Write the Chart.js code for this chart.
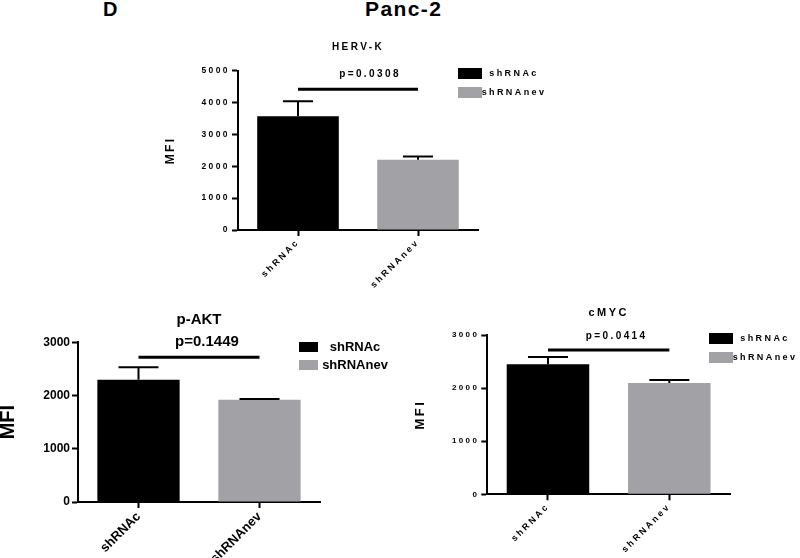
<!DOCTYPE html>
<html>
<head>
<meta charset="utf-8">
<script src="https://cdn.jsdelivr.net/npm/chart.js@4.4.1/dist/chart.umd.min.js"></script>
<style>
  html, body { margin: 0; padding: 0; background: #fff; }
  body { width: 800px; height: 558px; position: relative; overflow: hidden; font-family: 'Liberation Sans', Arial, sans-serif; }
  .panel { position: absolute; }
  .hdr { position: absolute; font-weight: bold; font-size: 20px; line-height: 20px; color: #000; white-space: nowrap; }
</style>
</head>
<body>
<div class="hdr" id="panel-letter" style="left:103px;top:-1px;">D</div>
<div class="hdr" id="figure-title" style="left:365px;top:-1px;font-size:21px;letter-spacing:1.4px;">Panc-2</div>
<canvas id="herv-chart" class="panel" width="400" height="264" style="left:160px;top:36px"></canvas>
<canvas id="akt-chart" class="panel" width="400" height="258" style="left:0px;top:300px"></canvas>
<canvas id="myc-chart" class="panel" width="400" height="258" style="left:400px;top:300px"></canvas>
<script>
const categories = ['shRNAc', 'shRNAnev'];
const barColors = ['#000000', '#a2a2a6'];

const hervMeans = [3574, 2204];
const hervErrors = [470, 106];
const hervTicks = [0, 1000, 2000, 3000, 4000, 5000];
const hervSigLevel = 4420;
const hervPValue = 'p=0.0308';

const aktMeans = [2298, 1923];
const aktErrors = [233, 12];
const aktTicks = [0, 1000, 2000, 3000];
const aktSigLevel = 2720;
const aktPValue = 'p=0.1449';

const mycMeans = [2448, 2096];
const mycErrors = [137, 56];
const mycTicks = [0, 1000, 2000, 3000];
const mycSigLevel = 2717;
const mycPValue = 'p=0.0414';

const FONT = '"Liberation Sans", Arial, sans-serif';
Chart.defaults.font.family = FONT;
Chart.defaults.font.weight = 'bold';
Chart.defaults.color = '#000';

// GraphPad-style wide lettering on some panels
const spacingPlugin = {
  id: 'spacing',
  beforeLayout(chart, args, opts) { chart.ctx.letterSpacing = opts.value || '0px'; },
  beforeDraw(chart, args, opts) { chart.ctx.letterSpacing = opts.value || '0px'; }
};

const errorBarsPlugin = {
  id: 'errorBars',
  afterDatasetsDraw(chart, args, opts) {
    const { ctx } = chart;
    const y = chart.scales.y;
    ctx.save();
    ctx.strokeStyle = '#000';
    ctx.lineWidth = opts.lineWidth;
    chart.data.datasets.forEach((ds, i) => {
      chart.getDatasetMeta(i).data.forEach((bar, j) => {
        const mean = ds.data[j];
        if (mean === null || mean === undefined) return;
        const top = y.getPixelForValue(mean + ds.errors[j]);
        ctx.beginPath();
        ctx.moveTo(bar.x, bar.y);
        ctx.lineTo(bar.x, top);
        ctx.moveTo(bar.x - opts.capHalf, top);
        ctx.lineTo(bar.x + opts.capHalf, top);
        ctx.stroke();
      });
    });
    ctx.restore();
  }
};

const significancePlugin = {
  id: 'significance',
  afterDatasetsDraw(chart, args, opts) {
    const { ctx } = chart;
    const x1 = chart.scales.x.getPixelForValue(0);
    const x2 = chart.scales.x.getPixelForValue(1);
    const ly = chart.scales.y.getPixelForValue(opts.level);
    ctx.save();
    ctx.strokeStyle = '#000';
    ctx.lineWidth = 3;
    ctx.beginPath();
    ctx.moveTo(x1, ly);
    ctx.lineTo(x2, ly);
    ctx.stroke();
    ctx.font = opts.font;
    ctx.fillStyle = '#000';
    ctx.textAlign = 'center';
    ctx.textBaseline = 'middle';
    ctx.fillText(opts.text, (x1 + x2) / 2 + opts.textDx, ly - opts.textDy);
    ctx.restore();
  }
};

const sideLegendPlugin = {
  id: 'sideLegend',
  afterDraw(chart, args, opts) {
    const { ctx, chartArea } = chart;
    ctx.save();
    ctx.font = opts.font;
    ctx.textAlign = 'center';
    ctx.textBaseline = 'middle';
    chart.data.datasets.forEach((ds, i) => {
      const bx = chartArea.right + opts.dx;
      const by = chartArea.top + opts.dy + i * opts.gap;
      ctx.fillStyle = ds.backgroundColor;
      ctx.fillRect(bx, by, opts.boxW, opts.boxH);
      ctx.fillStyle = '#000';
      ctx.fillText(ds.label, bx + opts.boxW + opts.textDx, by + opts.boxH / 2 + 0.5);
    });
    ctx.restore();
  }
};

function buildChart(canvasId, setup) {
  return new Chart(document.getElementById(canvasId), {
    type: 'bar',
    data: {
      labels: categories,
      datasets: categories.map((name, i) => ({
        label: name,
        data: setup.means.map((v, j) => (j === i ? v : null)),
        errors: setup.errors,
        backgroundColor: barColors[i],
        borderWidth: 0,
        categoryPercentage: 1,
        barPercentage: 0.68,
        skipNull: true
      }))
    },
    options: {
      responsive: false,
      animation: false,
      devicePixelRatio: 1,
      layout: { padding: setup.padding },
      plugins: {
        legend: { display: false },
        tooltip: { enabled: false },
        title: {
          display: true,
          fullSize: false,
          text: setup.title,
          color: '#000',
          font: setup.titleFont,
          padding: setup.titlePadding
        },
        spacing: { value: setup.spacing },
        errorBars: { lineWidth: 2, capHalf: setup.capHalf },
        significance: setup.sig,
        sideLegend: setup.legend
      },
      scales: {
        x: {
          z: 1,
          offset: true,
          grid: { display: true, drawOnChartArea: false, offset: false, tickLength: 6, tickWidth: 2, tickColor: '#000' },
          border: { display: true, color: '#000', width: 2 },
          ticks: { font: setup.xTickFont, color: '#000', minRotation: 45, maxRotation: 45, autoSkip: false, padding: 1 },
          afterFit(scale) {
            scale.height = setup.xAxisHeight;
            scale.paddingLeft = 0;
            scale.paddingRight = 0;
          }
        },
        y: {
          min: 0,
          max: setup.ticks[setup.ticks.length - 1],
          afterBuildTicks(scale) { scale.ticks = setup.ticks.map((v) => ({ value: v })); },
          grid: { display: true, drawOnChartArea: false, tickLength: 6, tickWidth: 2, tickColor: '#000' },
          border: { display: true, color: '#000', width: 2 },
          ticks: { font: setup.yTickFont, color: '#000', padding: 2, callback: (v) => String(v) },
          title: { display: true, text: 'MFI', color: '#000', font: setup.axisTitleFont, padding: setup.axisTitlePadding },
          afterFit(scale) {
            scale.width = setup.yAxisWidth;
            scale.paddingTop = 0;
            scale.paddingBottom = 0;
          }
        }
      }
    },
    plugins: [spacingPlugin, errorBarsPlugin, significancePlugin, sideLegendPlugin]
  });
}

buildChart('herv-chart', {
  title: 'HERV-K',
  means: hervMeans,
  errors: hervErrors,
  ticks: hervTicks,
  spacing: '2.4px',
  padding: { left: 0, right: 82, top: 0, bottom: 0 },
  yAxisWidth: 78,
  xAxisHeight: 70,
  titleFont: { size: 10, weight: 'bold', lineHeight: 1.2 },
  titlePadding: { top: 5, bottom: 17.7 },
  axisTitleFont: { size: 12, weight: 'bold', lineHeight: 1.2 },
  axisTitlePadding: { top: 3.8, bottom: 0 },
  xTickFont: { size: 9, weight: 'bold' },
  yTickFont: { size: 8.5, weight: 'bold' },
  capHalf: 15,
  sig: { level: hervSigLevel, text: hervPValue, font: 'bold 10px ' + FONT, textDx: 12, textDy: 15 },
  legend: { dx: -20, dy: -2.7, gap: 19, boxW: 24, boxH: 11, textDx: 32, font: 'bold 9px ' + FONT }
});

buildChart('akt-chart', {
  title: 'p-AKT',
  means: aktMeans,
  errors: aktErrors,
  ticks: aktTicks,
  spacing: '0px',
  padding: { left: 0, right: 80, top: 0, bottom: 0 },
  yAxisWidth: 78,
  xAxisHeight: 56,
  titleFont: { size: 15, weight: 'bold', lineHeight: 1.2 },
  titlePadding: { top: 11, bottom: 13.3 },
  axisTitleFont: { size: 20, weight: 'bold', lineHeight: 0.8 },
  axisTitlePadding: { top: 0.5, bottom: 0 },
  xTickFont: { size: 13, weight: 'bold' },
  yTickFont: { size: 12, weight: 'bold' },
  capHalf: 20,
  sig: { level: aktSigLevel, text: aktPValue, font: 'bold 15px ' + FONT, textDx: 8, textDy: 15 },
  legend: { dx: -21, dy: -0.3, gap: 18, boxW: 19, boxH: 10, textDx: 37, font: 'bold 13px ' + FONT }
});

buildChart('myc-chart', {
  title: 'cMYC',
  means: mycMeans,
  errors: mycErrors,
  ticks: mycTicks,
  spacing: '2.4px',
  padding: { left: 0, right: 70, top: 0, bottom: 0 },
  yAxisWidth: 87.3,
  xAxisHeight: 63.7,
  titleFont: { size: 11, weight: 'bold', lineHeight: 1.2 },
  titlePadding: { top: 6.4, bottom: 15.4 },
  axisTitleFont: { size: 13, weight: 'bold', lineHeight: 1.2 },
  axisTitlePadding: { top: 12.2, bottom: 0 },
  xTickFont: { size: 9, weight: 'bold' },
  yTickFont: { size: 8, weight: 'bold' },
  capHalf: 20,
  sig: { level: mycSigLevel, text: mycPValue, font: 'bold 10px ' + FONT, textDx: 8, textDy: 14 },
  legend: { dx: -21, dy: -2, gap: 19, boxW: 24, boxH: 11, textDx: 32, font: 'bold 9px ' + FONT }
});
</script>
</body>
</html>
